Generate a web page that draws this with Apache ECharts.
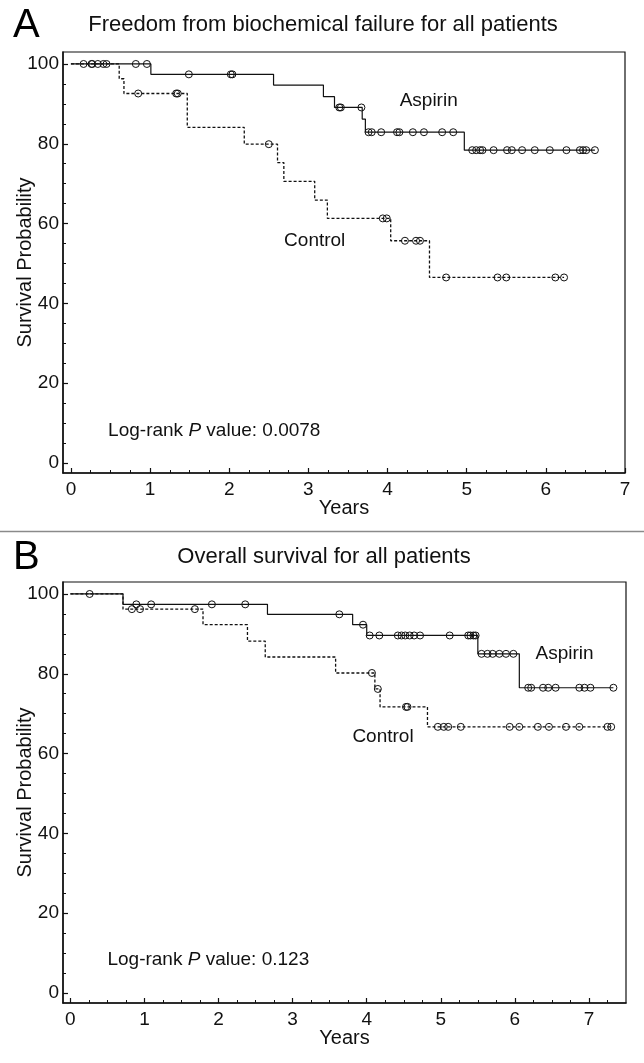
<!DOCTYPE html>
<html>
<head>
<meta charset="utf-8">
<script src="https://cdn.jsdelivr.net/npm/echarts@6/dist/echarts.min.js"></script>
<style>html,body{margin:0;padding:0;background:#fff}#c{width:644px;height:1063px}</style>
</head>
<body>
<div id="c"></div>
<script>
// ---------- Panel A: Freedom from biochemical failure ----------
const aAspTimes = [0, 1.01, 2.56, 3.19, 3.33, 3.68, 3.72, 4.97, 6.62];
const aAspSurv  = [100, 97.4, 94.7, 91.8, 89.1, 86.2, 82.9, 78.4, 78.4];
const aAspCensT = [0.16, 0.26, 0.27, 0.34, 0.41, 0.45, 0.82, 0.96, 1.49, 2.02, 2.04, 3.39, 3.41, 3.67,
                   3.76, 3.80, 3.92, 4.12, 4.15, 4.32, 4.46, 4.69, 4.83,
                   5.07, 5.12, 5.17, 5.20, 5.34, 5.51, 5.57, 5.70, 5.86, 6.05, 6.26, 6.43, 6.47, 6.51, 6.62];
const aAspCensS = [100, 100, 100, 100, 100, 100, 100, 100, 97.4, 97.4, 97.4, 89.1, 89.1, 89.1,
                   82.9, 82.9, 82.9, 82.9, 82.9, 82.9, 82.9, 82.9, 82.9,
                   78.4, 78.4, 78.4, 78.4, 78.4, 78.4, 78.4, 78.4, 78.4, 78.4, 78.4, 78.4, 78.4, 78.4, 78.4];

const aCtlTimes = [0, 0.61, 0.67, 1.47, 2.19, 2.61, 2.69, 3.08, 3.24, 4.04, 4.53, 6.23];
const aCtlSurv  = [100, 96.3, 92.6, 84.1, 79.9, 75.3, 70.6, 65.9, 61.3, 55.7, 46.5, 46.5];
const aCtlCensT = [0.85, 1.33, 1.35, 2.50, 3.94, 3.99, 4.22, 4.36, 4.41, 4.74, 5.39, 5.50, 6.12, 6.23];
const aCtlCensS = [92.6, 92.6, 92.6, 79.9, 61.3, 61.3, 55.7, 55.7, 55.7, 46.5, 46.5, 46.5, 46.5, 46.5];

// ---------- Panel B: Overall survival ----------
const bAspTimes = [0, 0.71, 2.66, 3.81, 4.00, 5.50, 6.06, 7.33];
const bAspSurv  = [100, 97.4, 94.9, 92.3, 89.6, 85.0, 76.5, 76.5];
const bAspCensT = [0.26, 0.89, 1.09, 1.91, 2.36, 3.63, 3.95,
                   4.04, 4.17, 4.42, 4.47, 4.52, 4.58, 4.64, 4.72, 5.12, 5.37, 5.40, 5.44, 5.47,
                   5.55, 5.63, 5.70, 5.79, 5.88, 5.98,
                   6.18, 6.22, 6.38, 6.45, 6.55, 6.87, 6.94, 7.02, 7.33];
const bAspCensS = [100, 97.4, 97.4, 97.4, 97.4, 94.9, 92.3,
                   89.6, 89.6, 89.6, 89.6, 89.6, 89.6, 89.6, 89.6, 89.6, 89.6, 89.6, 89.6, 89.6,
                   85.0, 85.0, 85.0, 85.0, 85.0, 85.0,
                   76.5, 76.5, 76.5, 76.5, 76.5, 76.5, 76.5, 76.5, 76.5];

const bCtlTimes = [0, 0.71, 1.79, 2.39, 2.63, 3.58, 4.11, 4.18, 4.82, 7.30];
const bCtlSurv  = [100, 96.2, 92.3, 88.2, 84.2, 80.2, 76.2, 71.7, 66.7, 66.7];
const bCtlCensT = [0.83, 0.94, 1.68, 4.07, 4.15, 4.53, 4.55,
                   4.96, 5.04, 5.10, 5.27, 5.93, 6.06, 6.31, 6.46, 6.69, 6.87, 7.25, 7.30];
const bCtlCensS = [96.2, 96.2, 96.2, 80.2, 76.2, 71.7, 71.7,
                   66.7, 66.7, 66.7, 66.7, 66.7, 66.7, 66.7, 66.7, 66.7, 66.7, 66.7, 66.7];

// ---------- Axis ticks ----------
const xTicks = [0, 1, 2, 3, 4, 5, 6, 7];
const xMinorA = [0.25, 0.5, 0.75, 1.25, 1.5, 1.75, 2.25, 2.5, 2.75, 3.25, 3.5, 3.75,
                 4.25, 4.5, 4.75, 5.25, 5.5, 5.75, 6.25, 6.5, 6.75];
const xMinorB = [0.25, 0.5, 0.75, 1.25, 1.5, 1.75, 2.25, 2.5, 2.75, 3.25, 3.5, 3.75,
                 4.25, 4.5, 4.75, 5.25, 5.5, 5.75, 6.25, 6.5, 6.75, 7.25];
const yTicks = [0, 20, 40, 60, 80, 100];
const yMinor = [5, 10, 15, 25, 30, 35, 45, 50, 55, 65, 70, 75, 85, 90, 95];

const titleA = 'Freedom from biochemical failure for all patients';
const titleB = 'Overall survival for all patients';
const pA = '0.0078';
const pB = '0.123';

const FONT = '"Liberation Sans", Arial, Helvetica, sans-serif';
const INK = '#111';

function zip(t, s) { return t.map((v, i) => [v, s[i]]); }

function mkX(grid, max, main, minor) {
  return [
    {
      type: 'value', gridIndex: grid, min: -0.1, max: max, position: 'bottom',
      name: 'Years', nameLocation: 'middle', nameGap: 25, nameMoveOverlap: false,
      nameTextStyle: { fontFamily: FONT, fontSize: 20, color: INK },
      axisLine: { show: true, onZero: false, lineStyle: { color: INK, width: 1.5 } },
      axisTick: { show: true, inside: true, length: 5, customValues: main, lineStyle: { color: INK, width: 1.2 } },
      axisLabel: { show: true, customValues: main, fontFamily: FONT, fontSize: 19, color: INK, margin: 7 },
      splitLine: { show: false }
    },
    {
      type: 'value', gridIndex: grid, min: -0.1, max: max, position: 'bottom',
      axisLine: { show: false, onZero: false },
      axisTick: { show: true, inside: true, length: 3, customValues: minor, lineStyle: { color: INK, width: 1 } },
      axisLabel: { show: false },
      splitLine: { show: false }
    }
  ];
}
function mkY(grid) {
  return [
    {
      type: 'value', gridIndex: grid, min: -2.5, max: 103, position: 'left',
      name: 'Survival Probability', nameLocation: 'middle', nameGap: 28, nameMoveOverlap: false,
      nameTextStyle: { fontFamily: FONT, fontSize: 20, color: INK },
      axisLine: { show: true, onZero: false, lineStyle: { color: INK, width: 1.5 } },
      axisTick: { show: true, inside: true, length: 5, customValues: yTicks, lineStyle: { color: INK, width: 1.2 } },
      axisLabel: { show: true, customValues: yTicks, fontFamily: FONT, fontSize: 19, color: INK, margin: 4 },
      splitLine: { show: false }
    },
    {
      type: 'value', gridIndex: grid, min: -2.5, max: 103, position: 'left',
      axisLine: { show: false, onZero: false },
      axisTick: { show: true, inside: true, length: 3, customValues: yMinor, lineStyle: { color: INK, width: 1 } },
      axisLabel: { show: false },
      splitLine: { show: false }
    }
  ];
}

function curve(xi, yi, t, s, dashed) {
  return {
    type: 'line', xAxisIndex: xi, yAxisIndex: yi, step: 'end', data: zip(t, s),
    showSymbol: false, symbol: 'none', silent: true, z: 3,
    lineStyle: { color: INK, width: dashed ? 1.3 : 1.2, type: dashed ? [3, 2] : 'solid', opacity: 1 }
  };
}
function censors(xi, yi, t, s) {
  return {
    type: 'scatter', xAxisIndex: xi, yAxisIndex: yi, data: zip(t, s),
    symbol: 'circle', symbolSize: 7, silent: true, z: 4,
    itemStyle: { color: 'rgba(255,255,255,0)', borderColor: INK, borderWidth: 1, opacity: 1 }
  };
}
function label(xi, yi, x, y, text, pos) {
  return {
    type: 'scatter', xAxisIndex: xi, yAxisIndex: yi, data: [[x, y]],
    symbolSize: 0, silent: true, z: 5,
    itemStyle: { opacity: 1 },
    label: {
      show: true, position: pos, distance: 0, formatter: text,
      fontFamily: FONT, fontSize: 19, color: INK, opacity: 1, textBorderWidth: 0,
      rich: { i: { fontFamily: FONT, fontSize: 19, color: INK, fontStyle: 'italic' } }
    }
  };
}

const gridBase = { show: true, borderColor: INK, borderWidth: 1.2, containLabel: false, outerBoundsMode: 'none' };

const chart = echarts.init(document.getElementById('c'), null, { renderer: 'canvas' });
chart.setOption({
  backgroundColor: '#fff',
  animation: false,
  grid: [
    Object.assign({ left: 63, top: 52, width: 562, height: 421 }, gridBase),
    Object.assign({ left: 63, top: 582, width: 563, height: 421 }, gridBase)
  ],
  xAxis: [].concat(mkX(0, 7, xTicks, xMinorA), mkX(1, 7.5, xTicks, xMinorB)),
  yAxis: [].concat(mkY(0), mkY(1)),
  graphic: [
    { type: 'line', shape: { x1: 0, y1: 531.5, x2: 644, y2: 531.5 }, style: { stroke: '#8a8a8a', lineWidth: 1.5 } },
    { type: 'text', style: { x: 13, y: 6, text: 'A', font: '40px ' + FONT, fill: '#000' } },
    { type: 'text', style: { x: 13, y: 538, text: 'B', font: '40px ' + FONT, fill: '#000' } },
    { type: 'text', style: { x: 323, y: 14, text: titleA, font: '22px ' + FONT, fill: INK, textAlign: 'center' } },
    { type: 'text', style: { x: 324, y: 546, text: titleB, font: '22px ' + FONT, fill: INK, textAlign: 'center' } }
  ],
  series: [
    curve(0, 0, aAspTimes, aAspSurv, false),
    curve(0, 0, aCtlTimes, aCtlSurv, true),
    censors(0, 0, aAspCensT, aAspCensS),
    censors(0, 0, aCtlCensT, aCtlCensS),
    label(0, 0, 4.52, 90.8, 'Aspirin', 'inside'),
    label(0, 0, 3.08, 55.6, 'Control', 'inside'),
    label(0, 0, 0.47, 8, 'Log-rank {i|P} value: ' + pA, 'right'),

    curve(2, 2, bAspTimes, bAspSurv, false),
    curve(2, 2, bCtlTimes, bCtlSurv, true),
    censors(2, 2, bAspCensT, bAspCensS),
    censors(2, 2, bCtlCensT, bCtlCensS),
    label(2, 2, 6.67, 84.9, 'Aspirin', 'inside'),
    label(2, 2, 4.22, 64.3, 'Control', 'inside'),
    label(2, 2, 0.5, 8.3, 'Log-rank {i|P} value: ' + pB, 'right')
  ]
});
</script>
</body>
</html>
